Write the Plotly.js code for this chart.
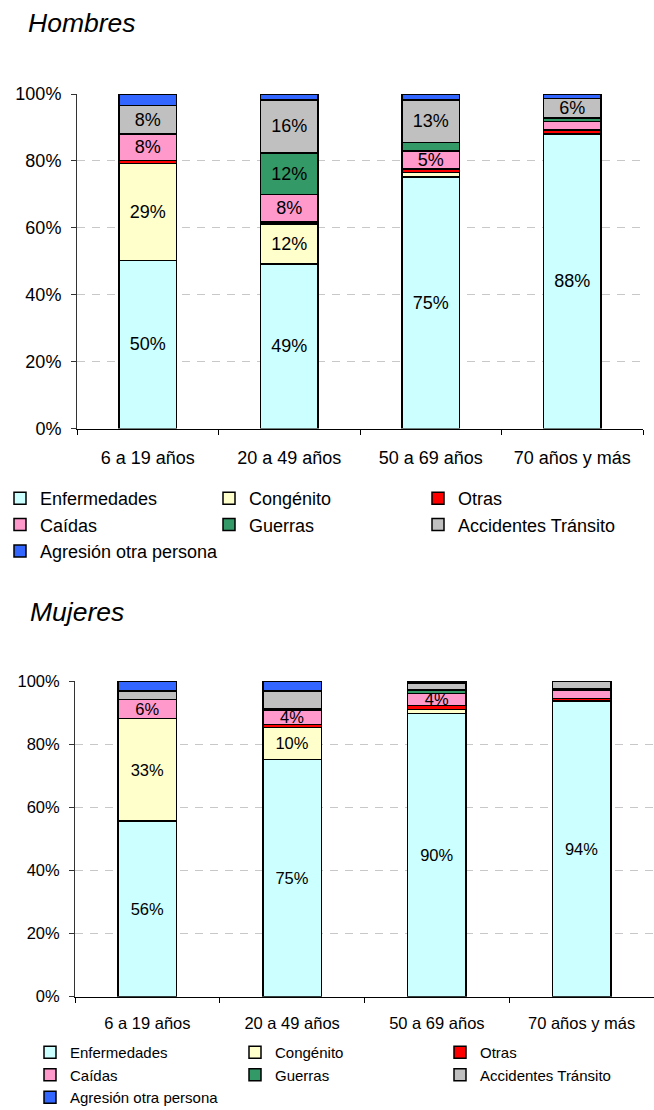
<!DOCTYPE html>
<html>
<head>
<meta charset="utf-8">
<script src="https://cdn.plot.ly/plotly-3.0.1.min.js"></script>
<style>
  html, body { margin: 0; padding: 0; background: #fff; }
  #chart { width: 654px; height: 1110px; }
</style>
</head>
<body>
<div id="chart"></div>
<script>
// ---- data ----
const categories = ['6 a 19 años', '20 a 49 años', '50 a 69 años', '70 años y más'];
const seriesNames = ['Enfermedades', 'Congénito', 'Otras', 'Caídas', 'Guerras', 'Accidentes Tránsito', 'Agresión otra persona'];
const seriesColors = ['#CCFFFF', '#FFFFCC', '#FF0000', '#FF99CC', '#339966', '#C0C0C0', '#3366FF'];
const yTicks = [0, 20, 40, 60, 80, 100];

// Hombres (percent)
const hEnfermedades = [50.3, 49.2, 75.2, 88.0];
const hCongenito    = [29.0, 12.0, 1.4, 0.2];
const hOtras        = [0.8, 0.5, 1.0, 1.0];
const hCaidas       = [8.0, 8.3, 5.3, 2.6];
const hGuerras      = [0.0, 12.4, 2.6, 1.1];
const hAccidentes   = [8.4, 15.8, 12.7, 5.7];
const hAgresion     = [3.5, 1.8, 1.8, 1.4];
// which segments carry a data label (1 = shown)
const hShowLabel = [
  [1, 1, 1, 1],
  [1, 1, 0, 0],
  [0, 0, 0, 0],
  [1, 1, 1, 0],
  [0, 1, 0, 0],
  [1, 1, 1, 1],
  [0, 0, 0, 0]
];

// Mujeres (percent)
const mEnfermedades = [55.6, 75.2, 89.7, 93.6];
const mCongenito    = [32.6, 10.1, 1.3, 0.3];
const mOtras        = [0.0, 1.0, 1.2, 0.5];
const mCaidas       = [6.0, 4.4, 3.9, 2.6];
const mGuerras      = [0.0, 0.5, 1.0, 0.5];
const mAccidentes   = [2.6, 5.6, 2.2, 2.5];
const mAgresion     = [3.2, 3.2, 0.7, 0.0];
const mShowLabel = [
  [1, 1, 1, 1],
  [1, 1, 0, 0],
  [0, 0, 0, 0],
  [1, 1, 1, 0],
  [0, 0, 0, 0],
  [0, 0, 0, 0],
  [0, 0, 0, 0]
];

const FONT = 'Liberation Sans, Arial, Helvetica, sans-serif';
const W = 654, H = 1110;
const px = x => x / W;          // pixel -> paper x
const py = y => 1 - y / H;      // pixel -> paper y

function buildTraces(seriesValues, showLabel, fontSize, xa, ya, legendId) {
  return seriesValues.map((vals, i) => ({
    type: 'bar',
    name: seriesNames[i],
    x: categories,
    y: vals,
    xaxis: xa, yaxis: ya,
    legend: legendId,
    text: vals.map((v, j) => showLabel[i][j] ? Math.round(v) + '%' : ''),
    textposition: 'inside',
    insidetextanchor: 'middle',
    textangle: 0,
    constraintext: 'none',
    cliponaxis: false,
    textfont: { family: FONT, size: fontSize, color: '#000' },
    marker: { color: seriesColors[i], line: { color: '#000', width: 1.5 } },
    hoverinfo: 'skip'
  }));
}

function xAxis(domain, fs, standoff, anchor) {
  return {
    type: 'category', domain: domain, anchor: anchor,
    showline: true, linecolor: '#000', linewidth: 1,
    ticks: 'outside', tickson: 'boundaries', ticklen: 5, tickcolor: '#000',
    tickfont: { family: FONT, size: fs, color: '#000' },
    ticklabelstandoff: standoff,
    showgrid: false, zeroline: false, fixedrange: true
  };
}
function yAxis(domain, fs, standoff, anchor) {
  return {
    range: [0, 100], domain: domain, anchor: anchor,
    tickvals: yTicks,
    ticktext: yTicks.map(v => v + '%'),
    showline: true, linecolor: '#333', linewidth: 1,
    ticks: 'outside', ticklen: 5, tickcolor: '#333',
    tickfont: { family: FONT, size: fs, color: '#000' },
    ticklabelstandoff: standoff,
    showgrid: true, gridcolor: '#c8c8c8', gridwidth: 1, griddash: '8px,7px',
    zeroline: false, fixedrange: true
  };
}
function legend(x, y, entryW, fs) {
  return {
    orientation: 'h', traceorder: 'normal',
    xref: 'paper', yref: 'paper',
    x: px(x), xanchor: 'left', y: py(y), yanchor: 'top',
    entrywidth: entryW, entrywidthmode: 'pixels',
    font: { family: FONT, size: fs, color: '#000' },
    bgcolor: 'rgba(0,0,0,0)',
    itemclick: false, itemdoubleclick: false
  };
}

const traces = [].concat(
  buildTraces([hEnfermedades, hCongenito, hOtras, hCaidas, hGuerras, hAccidentes, hAgresion],
              hShowLabel, 18, 'x', 'y', 'legend'),
  buildTraces([mEnfermedades, mCongenito, mOtras, mCaidas, mGuerras, mAccidentes, mAgresion],
              mShowLabel, 16.5, 'x2', 'y2', 'legend2')
);

const layout = {
  width: W, height: H,
  margin: { l: 0, r: 0, t: 0, b: 0, pad: 0, autoexpand: false },
  paper_bgcolor: '#fff', plot_bgcolor: '#fff',
  barmode: 'stack',
  bargap: 0.595,
  showlegend: true,
  font: { family: FONT, color: '#000' },
  title: {
    text: 'Hombres',
    font: { family: FONT, size: 26.5, style: 'italic', color: '#000' },
    xref: 'container', yref: 'container',
    x: px(28), xanchor: 'left', y: py(23), yanchor: 'middle'
  },
  annotations: [{
    text: 'Mujeres', showarrow: false,
    xref: 'paper', yref: 'paper',
    x: px(28), xanchor: 'left', y: py(612), yanchor: 'middle',
    font: { family: FONT, size: 26.5, style: 'italic', color: '#000' }
  }],
  xaxis:  xAxis([px(77), px(643)], 18, 13, 'y'),
  yaxis:  yAxis([py(428.6), py(94)], 18, 6, 'x'),
  xaxis2: xAxis([px(75), 1], 16.5, 11, 'y2'),
  yaxis2: yAxis([py(996.7), py(681)], 16.5, 6, 'x2'),
  legend:  legend(0, 480, 164, 18),
  legend2: legend(30, 1036, 160, 15)
};

Plotly.newPlot('chart', traces, layout, { displayModeBar: false, staticPlot: true });
</script>
</body>
</html>
